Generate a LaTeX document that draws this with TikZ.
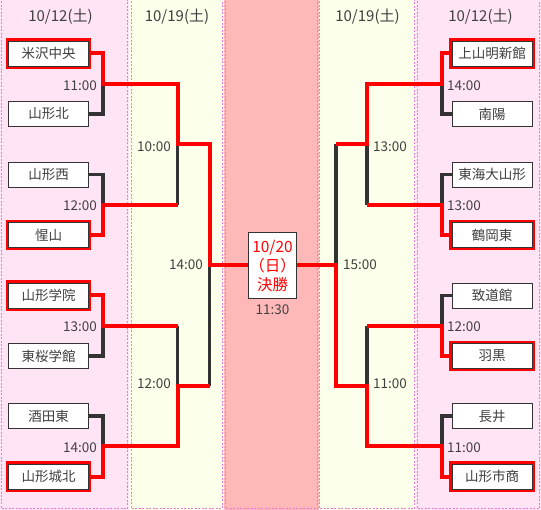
\documentclass[tikz,border=0pt]{standalone}
\usepackage{fontspec}
\newfontfamily\jp{Noto Sans CJK JP}
\definecolor{pinkbg}{RGB}{255,228,246}
\definecolor{yelbg}{RGB}{252,255,234}
\definecolor{salbg}{RGB}{255,184,184}
\definecolor{dashc}{RGB}{240,120,220}
\definecolor{linec}{RGB}{51,51,51}
\definecolor{txtc}{RGB}{64,64,64}
\definecolor{winred}{RGB}{255,0,0}
\begin{document}
\begin{tikzpicture}[x=1pt,y=-1pt,
  team/.style={draw=linec, line width=0.9pt, fill=white, minimum width=80pt, minimum height=25pt,
    inner sep=0pt, font=\jp\fontsize{13.5}{16}\selectfont, text=txtc},
  winbox/.style={team, preaction={draw=winred, line width=5.5pt}},
  blk/.style={draw=linec, line width=3.2pt},
  winline/.style={draw=winred, line width=4pt},
  tlab/.style={font=\jp\fontsize{13.5}{16}\selectfont, text=txtc, inner sep=0pt},
  hdr/.style={font=\jp\fontsize{15}{18}\selectfont, text=txtc, inner sep=0pt},
  colbox/.style={draw=dashc, line width=0.6pt, dash pattern=on 2pt off 1.5pt}
]
\useasboundingbox (0,0) rectangle (541,510);
% column backgrounds
\fill[pinkbg] (0,-2) rectangle (129,510);
\fill[yelbg] (129,-2) rectangle (223.5,510);
\fill[salbg] (223.5,-2) rectangle (318.5,510);
\fill[yelbg] (318.5,-2) rectangle (416,510);
\fill[pinkbg] (416,-2) rectangle (541,510);
\draw[colbox] (1,-2) rectangle (127.5,508.5);
\draw[colbox] (131,-2) rectangle (222,508.5);
\draw[colbox] (225.5,-2) rectangle (317,508.5);
\draw[colbox] (319.5,-2) rectangle (414.5,508.5);
\draw[colbox] (417,-2) rectangle (539.5,508.5);
% headers
\node[hdr] (h1) at (60.5,17) {10/12(土)};
\node[hdr] (h2) at (177,17) {10/19(土)};
\node[hdr] (h3) at (367.5,17) {10/19(土)};
\node[hdr] (h4) at (480.5,17) {10/12(土)};
% left teams
\node[winbox] (L1) at (48.5,53.5) {米沢中央};
\node[team] (L2) at (48.5,114) {山形北};
\node[team] (L3) at (48.5,174.5) {山形西};
\node[winbox] (L4) at (48.5,235) {惺山};
\node[winbox] (L5) at (48.5,295.5) {山形学院};
\node[team] (L6) at (48.5,356) {東桜学館};
\node[team] (L7) at (48.5,416) {酒田東};
\node[winbox] (L8) at (48.5,476.5) {山形城北};
% right teams
\node[winbox] (R1) at (492,53.5) {上山明新館};
\node[team] (R2) at (492,114) {南陽};
\node[team] (R3) at (492,174.5) {東海大山形};
\node[winbox] (R4) at (492,235) {鶴岡東};
\node[team] (R5) at (492,295.5) {致道館};
\node[winbox] (R6) at (492,356) {羽黒};
\node[team] (R7) at (492,416) {長井};
\node[winbox] (R8) at (492,476.5) {山形市商};
% final
\node[draw=linec, line width=1.8pt, fill=white, minimum width=48pt, minimum height=66pt, inner sep=0pt,
  align=center, text=winred, font=\jp\fontsize{15.5}{19}\selectfont] (F) at (272.5,265.5) {10/20\\（日）\\決勝};
% junction coordinates
\coordinate (LJ1) at (103,83.75);
\coordinate (LJ2) at (103,204.75);
\coordinate (LJ3) at (103,325.75);
\coordinate (LJ4) at (103,446.25);
\coordinate (LK1) at (177.5,83.75);
\coordinate (LK2) at (177.5,204.75);
\coordinate (LK3) at (177.5,325.75);
\coordinate (LK4) at (177.5,446.25);
\coordinate (LM1) at (177.5,144.25);
\coordinate (LM2) at (177.5,386);
\coordinate (LN1) at (209.5,144.25);
\coordinate (LN2) at (209.5,386);
\coordinate (LS) at (209.5,265.5);
\coordinate (RJ1) at (442,83.75);
\coordinate (RJ2) at (442,204.75);
\coordinate (RJ3) at (442,325.75);
\coordinate (RJ4) at (442,446.25);
\coordinate (RK1) at (367,83.75);
\coordinate (RK2) at (367,204.75);
\coordinate (RK3) at (367,325.75);
\coordinate (RK4) at (367,446.25);
\coordinate (RM1) at (367,144.25);
\coordinate (RM2) at (367,386);
\coordinate (RN1) at (336,144.25);
\coordinate (RN2) at (336,386);
\coordinate (RS) at (336,265.5);
% black brackets
\draw[blk] (L1.east) -| (LJ1) |- (L2.east);
\draw[blk] (L3.east) -| (LJ2) |- (L4.east);
\draw[blk] (L5.east) -| (LJ3) |- (L6.east);
\draw[blk] (L7.east) -| (LJ4) |- (L8.east);
\draw[blk] (LK1) -- (LK2);
\draw[blk] (LK3) -- (LK4);
\draw[blk] (LN1) -- (LN2);
\draw[blk] (R1.west) -| (RJ1) |- (R2.west);
\draw[blk] (R3.west) -| (RJ2) |- (R4.west);
\draw[blk] (R5.west) -| (RJ3) |- (R6.west);
\draw[blk] (R7.west) -| (RJ4) |- (R8.west);
\draw[blk] (RK1) -- (RK2);
\draw[blk] (RK3) -- (RK4);
\draw[blk] (RN1) -- (RN2);
% winners
\draw[winline] (L1.east) -| (LJ1) -- (LK1) -- (LM1) -- (LN1) -- (LS) -- (F.west);
\draw[winline] (L4.east) -| (LJ2) -- (LK2);
\draw[winline] (L5.east) -| (LJ3) -- (LK3);
\draw[winline] (L8.east) -| (LJ4) -- (LK4) -- (LM2) -- (LN2);
\draw[winline] (R1.west) -| (RJ1) -- (RK1) -- (RM1) -- (RN1);
\draw[winline] (R4.west) -| (RJ2) -- (RK2);
\draw[winline] (R6.west) -| (RJ3) -- (RK3);
\draw[winline] (R8.west) -| (RJ4) -- (RK4) -- (RM2) -- (RN2) -- (RS) -- (F.east);
% time labels
\node[tlab, anchor=east] (tl1) at (97,85.5) {11:00};
\node[tlab, anchor=east] (tl2) at (97,206) {12:00};
\node[tlab, anchor=east] (tl3) at (97,327) {13:00};
\node[tlab, anchor=east] (tl4) at (97,447.5) {14:00};
\node[tlab, anchor=east] (tl5) at (171,146.5) {10:00};
\node[tlab, anchor=east] (tl6) at (171,384) {12:00};
\node[tlab, anchor=east] (tl7) at (203,264.5) {14:00};
\node[tlab, anchor=west] (tr1) at (447,85.5) {14:00};
\node[tlab, anchor=west] (tr2) at (447,206) {13:00};
\node[tlab, anchor=west] (tr3) at (447,327) {12:00};
\node[tlab, anchor=west] (tr4) at (447,447.5) {11:00};
\node[tlab, anchor=west] (tr5) at (373,146.5) {13:00};
\node[tlab, anchor=west] (tr6) at (373,384) {11:00};
\node[tlab, anchor=west] (tr7) at (343,264.5) {15:00};
\node[tlab] (tf) at (272.5,310) {11:30};
\end{tikzpicture}
\end{document}
